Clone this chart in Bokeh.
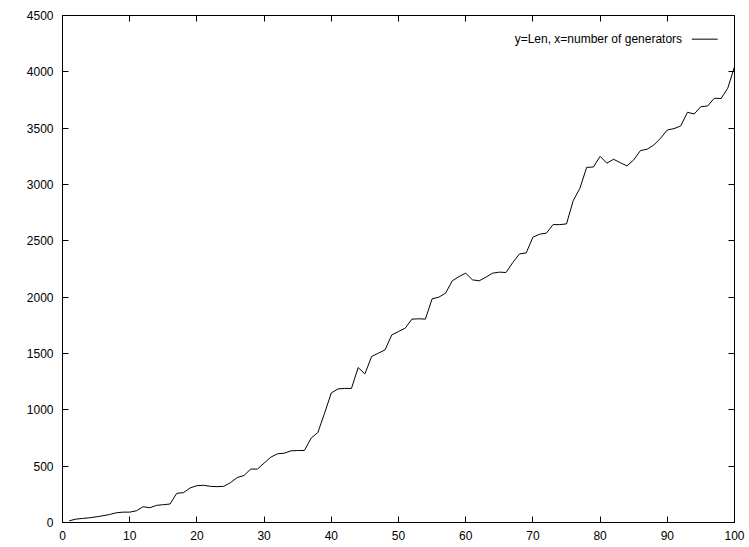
from bokeh.plotting import figure
from bokeh.models import Range1d, LinearAxis, FixedTicker, Label, ColumnDataSource
from bokeh.embed import file_html
from bokeh.resources import INLINE

# number of generators
gens = list(range(1, 101))
# Len values
lens = [15, 30, 36, 42, 50, 60, 71, 86, 92, 92,
        104, 140, 131, 152, 158, 164, 259, 265, 307, 327,
        330, 321, 318, 321, 354, 399, 417, 474, 474, 527,
        580, 610, 615, 636, 639, 639, 749, 799, 971, 1150,
        1186, 1190, 1190, 1375, 1319, 1473, 1503, 1532, 1665, 1695,
        1725, 1805, 1808, 1805, 1985, 2000, 2035, 2145, 2183, 2213,
        2154, 2145, 2177, 2213, 2222, 2219, 2307, 2384, 2393, 2532,
        2559, 2568, 2644, 2644, 2650, 2857, 2967, 3152, 3155, 3250,
        3189, 3224, 3194, 3165, 3218, 3301, 3313, 3351, 3411, 3484,
        3496, 3520, 3641, 3626, 3691, 3697, 3766, 3763, 3855, 4046]

x_ticks = [0, 10, 20, 30, 40, 50, 60, 70, 80, 90, 100]
y_ticks = [0, 500, 1000, 1500, 2000, 2500, 3000, 3500, 4000, 4500]
legend_text = "y=Len, x=number of generators"

FONT = "Liberation Sans"
FS = "12px"

p = figure(width=749, height=547, output_backend="svg", toolbar_location=None,
           x_range=Range1d(0, 100), y_range=Range1d(0, 4500),
           min_border_left=62, min_border_right=15, min_border_top=15, min_border_bottom=25,
           x_axis_location=None, y_axis_location=None)
p.grid.visible = False
p.outline_line_color = "black"
p.outline_line_width = 1
p.background_fill_color = "white"
p.border_fill_color = "white"

def style(ax, labels=True):
    ax.major_tick_in = 6
    ax.major_tick_out = 0
    ax.minor_tick_line_color = None
    ax.axis_line_color = "black"
    ax.major_tick_line_color = "black"
    if labels:
        ax.major_label_text_font = FONT
        ax.major_label_text_font_size = FS
        ax.major_label_text_color = "black"
    else:
        ax.major_label_text_color = None
        ax.major_label_text_font_size = "1px"
        ax.major_label_standoff = 0

bx = LinearAxis(ticker=FixedTicker(ticks=x_ticks))
style(bx)
bx.major_label_standoff = 8
p.add_layout(bx, "below")

ly = LinearAxis(ticker=FixedTicker(ticks=y_ticks))
style(ly)
ly.major_label_standoff = 9
p.add_layout(ly, "left")

# mirrored ticks on the top and right borders (gnuplot style)
tx = LinearAxis(ticker=FixedTicker(ticks=x_ticks))
style(tx, labels=False)
p.add_layout(tx, "above")

ry = LinearAxis(ticker=FixedTicker(ticks=y_ticks))
style(ry, labels=False)
p.add_layout(ry, "right")

src = ColumnDataSource(dict(x=gens, y=lens))
p.line("x", "y", source=src, line_color="black", line_width=1)

# gnuplot-style key: text then line sample on the right
key_y = 4290
p.add_layout(Label(x=92.2, y=key_y, text=legend_text, text_align="right",
                   text_baseline="middle", text_font=FONT, text_font_size=FS,
                   text_color="black"))
p.segment(x0=[93.65], y0=[key_y], x1=[97.5], y1=[key_y], line_color="black", line_width=1)

open("out.html", "w").write(file_html(p, INLINE))
